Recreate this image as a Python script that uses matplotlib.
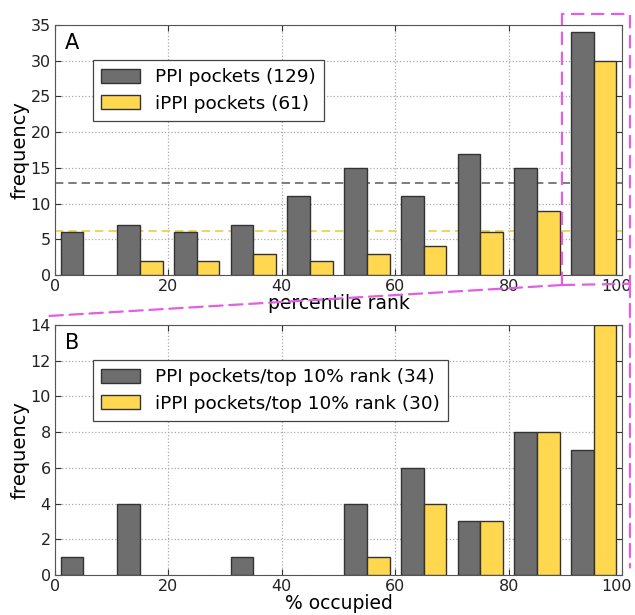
import numpy as np
import matplotlib
matplotlib.use("Agg")
import matplotlib.pyplot as plt
import matplotlib.transforms as mtransforms
from matplotlib.patches import ConnectionPatch

# histogram counts per 10% bin
bin_edges = [0, 10, 20, 30, 40, 50, 60, 70, 80, 90, 100]
ppi_rank = [6, 7, 6, 7, 11, 15, 11, 17, 15, 34]
ippi_rank = [0, 2, 2, 3, 2, 3, 4, 6, 9, 30]
ppi_occ = [1, 4, 0, 1, 0, 4, 6, 3, 8, 7]
ippi_occ = [0, 0, 0, 0, 0, 1, 4, 3, 8, 14]

labels_a = ["PPI pockets (129)", "iPPI pockets (61)"]
labels_b = ["PPI pockets/top 10% rank (34)", "iPPI pockets/top 10% rank (30)"]

GRAY = "#6E6E6E"
YELLOW = "#FFD850"
MAGENTA = "#E25EE2"
DASH = (0, (6, 3))

plt.rcParams['font.family'] = ['DejaVu Sans']
plt.rcParams['xtick.direction'] = 'in'
plt.rcParams['ytick.direction'] = 'in'
plt.rcParams['xtick.top'] = True
plt.rcParams['ytick.right'] = True

fig = plt.figure(figsize=(6.35, 6.15), dpi=100)
ax_a = fig.add_axes([0.0866, 0.5528, 0.893, 0.4065])
ax_b = fig.add_axes([0.0866, 0.065, 0.893, 0.4065])


def draw_hist(ax, a, b, labels, ymax, ystep, letter, xlabel):
    left = np.array(bin_edges[:-1], dtype=float)
    # empty bins are left out (no outline on the axis)
    ha = np.where(np.array(a) > 0, a, np.nan)
    hb = np.where(np.array(b) > 0, b, np.nan)
    ax.bar(left + 1, ha, width=4, align='edge', color=GRAY,
           edgecolor='#333333', linewidth=1, label=labels[0], zorder=3)
    ax.bar(left + 5, hb, width=4, align='edge', color=YELLOW,
           edgecolor='#333333', linewidth=1, label=labels[1], zorder=3)
    ax.set_xlim(0, 100)
    ax.set_ylim(0, ymax)
    ax.set_xticks(range(0, 101, 20))
    ax.set_yticks(np.arange(0, ymax + 0.1, ystep))
    ax.grid(True, linestyle=':', color='#aaaaaa', linewidth=0.9, zorder=0)
    ax.tick_params(labelsize=11.5, length=4, pad=3, colors='#333333',
                   labelcolor='#222222')
    for s in ax.spines.values():
        s.set_color('#555555')
    # keep the "100" label inside the figure edge
    last = ax.get_xticklabels()[-1]
    last.set_transform(last.get_transform() +
                       mtransforms.ScaledTranslation(-4 / 72, 0, fig.dpi_scale_trans))
    ax.set_ylabel("frequency", fontsize=14, labelpad=1)
    ax.set_xlabel(xlabel, fontsize=13.5, labelpad=0)
    ax.text(0.018, 0.93, letter, transform=ax.transAxes, fontsize=15,
            va='center', ha='left')
    leg = ax.legend(loc='upper left', bbox_to_anchor=(0.067, 0.86),
                    borderaxespad=0, fontsize=13.3, fancybox=False,
                    framealpha=1, edgecolor='#444444', handlelength=2.1,
                    handleheight=0.8, borderpad=0.45, handletextpad=0.8,
                    labelspacing=0.45)
    leg.get_frame().set_linewidth(0.9)


draw_hist(ax_a, ppi_rank, ippi_rank, labels_a, 35, 5, "A", "percentile rank")
draw_hist(ax_b, ppi_occ, ippi_occ, labels_b, 14, 2, "B", "% occupied")

# mean lines (total / number of bins)
ax_a.axhline(sum(ppi_rank) / 10, color='#666666', linestyle=(0, (5, 3)),
             linewidth=1.2, zorder=2)
ax_a.axhline(sum(ippi_rank) / 10, color='#E8D040', linestyle=(0, (5, 3)),
             linewidth=1.2, zorder=2)

# zoom box around top 10% bin
tr = ax_a.get_xaxis_transform()
x0, x1 = 89.4, 101.4
y0, y1 = -0.04, 1.044
ax_a.plot([x0, x0, x1, x1], [y0, y1, y1, y0], transform=tr, color=MAGENTA,
          linestyle=DASH, linewidth=1.6, clip_on=False, zorder=5)
ax_a.plot([x0, x1], [y0, y0 + 0.005], transform=tr, color=MAGENTA,
          linestyle=DASH, linewidth=1.6, clip_on=False, zorder=5)

con1 = ConnectionPatch(xyA=(x0, y0), coordsA=tr, xyB=(-0.012, 1.036),
                       coordsB=ax_b.transAxes, color=MAGENTA, linestyle=DASH,
                       linewidth=1.6)
fig.add_artist(con1)
con2 = ConnectionPatch(xyA=(x1, y0 + 0.005), coordsA=tr, xyB=(1.014, 0.03),
                       coordsB=ax_b.transAxes, color=MAGENTA, linestyle=DASH,
                       linewidth=1.6)
fig.add_artist(con2)

fig.savefig("out.png", dpi=100)
